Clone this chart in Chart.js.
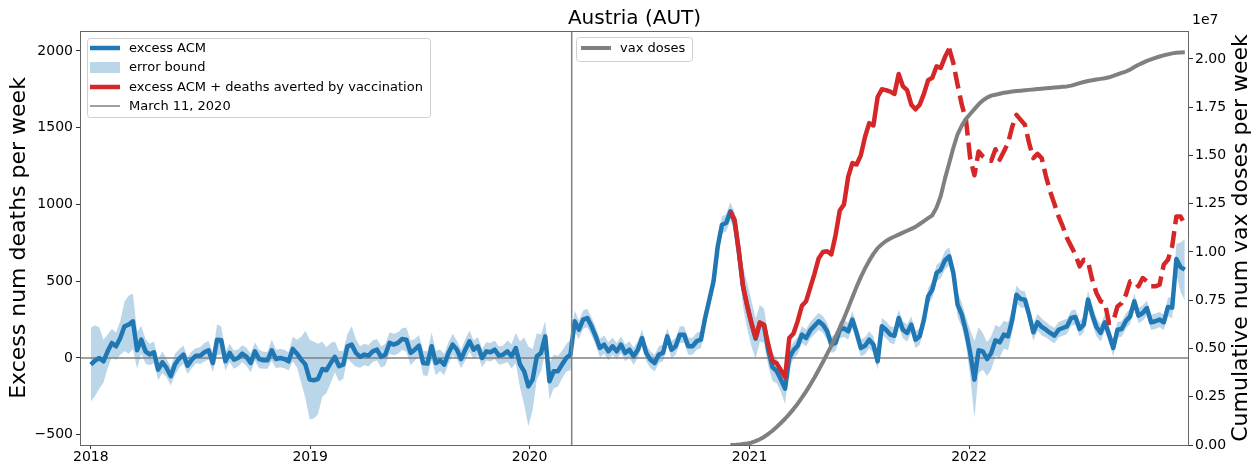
<!DOCTYPE html>
<html>
<head>
<meta charset="utf-8">
<script src="https://cdn.jsdelivr.net/npm/chart.js@4.4.1/dist/chart.umd.min.js"></script>
<style>
  html, body { margin: 0; padding: 0; background: #fff; }
</style>
</head>
<body>
<canvas id="myChart" width="1258" height="469"></canvas>
<script>
// weekly values, week 0 = 2018-01-01
var yearDays = [0, 365, 730, 1096, 1461];
var yearLabels = ['2018', '2019', '2020', '2021', '2022'];
var leftTicks = [-500, 0, 500, 1000, 1500, 2000];
var rightTicks = [0, 0.25, 0.5, 0.75, 1.0, 1.25, 1.5, 1.75, 2.0];
var march11 = 800; // days after 2018-01-01

var excessAcm = [
  -43, -17, 0, -22, 43, 98, 76, 130, 206, 217, 239, 50, 119, 43, 22, 37, -76, -28, -65, -119,
  -43, -4, 22, -50, -11, 15, 15, 37, 50, -33, 119, 115, -22, 33, -11, 0, 28, 7, -33, 43,
  -7, -15, -15, 50, -7, 0, -7, -22, 59, 28, -11, -43, -140,
  -145, -137, -72, -80, -33, 7, -54, -43, 76, 87, 33, 7, 22, 15, 43, 54, 7, 22, 98, 87,
  98, 124, 119, 33, 54, 80, -33, -37, 76, -33, -15, -43, 33, 87, 54, -7, 54, 109, 54, 76,
  0, 43, 37, 54, 15, 22, 43, 11, 65, -43, -87, -185,
  -141, 11, 33, 141, -152, -87, -87, -43, 0, 22, 239, 184, 250, 260, 206, 141, 65, 87, 43, 76,
  43, 87, 33, 54, 11, 54, 130, 33, -11, -33, 22, 33, 141, 54, 76, 152, 152, 76, 76, 109,
  119, 260, 380, 499, 727, 868, 879, 955,
  890, 690, 465, 340, 225, 125, 225, 210, 50, -60, -85, -140, -200,
  0, 50, 80, 152, 130, 180, 210, 239, 217, 174, 87, 98, 184, 193, 174, 250, 163, 65, 80, 119,
  87, -22, 206, 184, 152, 145, 260, 184, 163, 217, 119, 141, 250, 401, 445, 553, 575, 636, 662, 553,
  347, 282, 174, 33, -141,
  50, 43, -7, 33, 115, 102, 152, 141, 250, 412, 384, 380, 282, 167, 232, 202, 184, 163, 145, 184,
  195, 206, 260, 267, 189, 217, 380, 282, 202, 163, 232, 152, 65, 184, 189, 241, 271, 369, 276, 293,
  325, 232, 239, 250, 232, 332, 328, 644, 592, 575
];

var errorHalf = [
  240, 230, 200, 140, 110, 90, 90, 110, 160, 190, 180, 120, 90, 80, 70, 70, 70, 70, 60, 60,
  70, 60, 60, 55, 55, 50, 55, 60, 60, 60, 100, 90, 60, 60, 60, 55, 55, 60, 60, 60,
  60, 55, 55, 70, 60, 60, 60, 60, 80, 90, 150, 220, 260, 250, 230, 180, 150, 130, 100, 100,
  90, 80, 120, 90, 70, 70, 70, 70, 70, 70, 70, 70, 70, 70, 70, 80, 80, 70, 70, 80,
  80, 90, 80, 70, 70, 70, 70, 60, 60, 70, 70, 60, 60, 60, 60, 60, 60, 60, 60, 70,
  80, 100, 150, 220, 260, 200, 150, 120, 100, 120, 110, 100, 90, 90, 100, 70, 60, 60, 60, 60,
  60, 60, 60, 60, 55, 55, 55, 55, 55, 55, 55, 55, 55, 55, 55, 55, 55, 55, 55, 55,
  55, 55, 55, 55, 55, 55, 55, 55, 55, 55, 55, 55, 60, 60, 90, 130, 150, 150, 130, 120,
  110, 100, 90, 80, 80, 100, 60, 55, 55, 55, 55, 55, 55, 55, 55, 55, 55, 55, 55, 55,
  55, 55, 55, 55, 55, 55, 55, 55, 55, 55, 55, 55, 55, 55, 55, 55, 55, 55, 55, 55,
  55, 55, 55, 60, 60, 60, 80, 80, 90, 150, 250, 150, 120, 110, 110, 100, 100, 90, 90, 80,
  60, 55, 55, 55, 55, 55, 55, 50, 50, 50, 50, 50, 50, 50, 50, 50, 50, 60, 60, 60,
  55, 55, 55, 55, 50, 50, 50, 50, 50, 50, 50, 50, 50, 50, 50, 50, 60, 70, 100, 160,
  200
];

// excess ACM + deaths averted by vaccination, from week 152; dashed from week 204
var avertedStart = 152;
var avertedDashFrom = 204;
var withAverted = [
  955, 900, 700, 470, 340, 230, 130, 232, 217, 87, -20, -35, -80, -125, 130, 160, 240, 340, 370, 460,
  550, 650, 690, 695, 675, 800, 960, 1000, 1180, 1270, 1260, 1320, 1440, 1530, 1515, 1700, 1750, 1745, 1735, 1720,
  1850, 1770, 1745, 1650, 1620, 1650, 1720, 1810, 1825, 1900, 1890, 1960, 2015,
  1920, 1780, 1650, 1550, 1300, 1190, 1345, 1313, 1291, 1285, 1360, 1291, 1345, 1400, 1508, 1584, 1551, 1519, 1400, 1302,
  1330, 1302, 1183, 1085, 1005, 922, 857, 781, 727, 673, 597, 640, 629, 510, 423, 369, 358, 228, 239, 336,
  358, 412, 499, 499, 467, 521, 499, 467, 467, 477, 608, 640, 727, 922, 922, 868
];

// cumulative vax doses (units of 1e7), from week 152
var vaxStart = 152;
var vaxDoses = [
  0, 0, 0.002, 0.005, 0.008, 0.012, 0.02, 0.03, 0.042, 0.057, 0.074, 0.093, 0.114, 0.136, 0.16, 0.186, 0.214, 0.245, 0.278, 0.313,
  0.35, 0.39, 0.43, 0.472, 0.515, 0.56, 0.607, 0.657, 0.71, 0.765, 0.82, 0.87, 0.915, 0.955, 0.99, 1.02, 1.04, 1.057, 1.07, 1.08,
  1.09, 1.1, 1.11, 1.12, 1.13, 1.145, 1.16, 1.175, 1.19, 1.23, 1.29, 1.38, 1.46, 1.54, 1.61, 1.655, 1.69, 1.715, 1.74, 1.765,
  1.785, 1.8, 1.81, 1.815, 1.82, 1.825, 1.828, 1.831, 1.834, 1.836, 1.838, 1.84, 1.842, 1.844, 1.846, 1.848, 1.85, 1.852, 1.854, 1.856,
  1.858, 1.862, 1.868, 1.875, 1.881, 1.886, 1.89, 1.894, 1.897, 1.9, 1.905, 1.912, 1.92, 1.928, 1.935, 1.945, 1.958, 1.97, 1.98, 1.99,
  1.998, 2.006, 2.013, 2.019, 2.024, 2.029, 2.032, 2.034, 2.035
];

var xMin = -18, xMax = 1827;
var yMin = -567, yMax = 2130;
var y2Max = 2.145;

function pts(arr, start) {
  return arr.map(function (v, i) { return { x: (start + i) * 7, y: v }; });
}

var upper = excessAcm.map(function (v, i) { return { x: i * 7, y: v + errorHalf[i] }; });
var lower = excessAcm.map(function (v, i) { return { x: i * 7, y: v - errorHalf[i] }; });

var FONT = 'DejaVu Sans';

var decor = {
  id: 'decor',
  afterDraw: function (chart) {
    var ctx = chart.ctx, a = chart.chartArea;
    ctx.save();
    ctx.strokeStyle = '#666';
    ctx.lineWidth = 1;
    ctx.strokeRect(a.left + 0.5, a.top + 0.5, a.right - a.left - 1, a.bottom - a.top);

    ctx.fillStyle = '#000';
    ctx.textBaseline = 'middle';
    ctx.textAlign = 'center';
    ctx.font = '20px "' + FONT + '"';
    ctx.fillText('Austria (AUT)', (a.left + a.right) / 2, 19);

    ctx.font = '22px "' + FONT + '"';
    ctx.save();
    ctx.translate(19, (a.top + a.bottom) / 2);
    ctx.rotate(-Math.PI / 2);
    ctx.fillText('Excess num deaths per week', 0, 0);
    ctx.restore();
    ctx.save();
    ctx.translate(1241, (a.top + a.bottom) / 2);
    ctx.rotate(-Math.PI / 2);
    ctx.fillText('Cumulative num vax doses per week', 0, 0);
    ctx.restore();

    ctx.font = '14px "' + FONT + '"';
    ctx.textAlign = 'left';
    ctx.fillText('1e7', a.right + 3, 20);

    // legends
    var ds = chart.data.datasets;
    function box(x, y, w, h) {
      ctx.beginPath();
      ctx.roundRect(x + 0.5, y + 0.5, w, h, 3);
      ctx.fillStyle = 'rgba(255,255,255,0.8)';
      ctx.fill();
      ctx.strokeStyle = '#d0d0d0';
      ctx.lineWidth = 1;
      ctx.stroke();
    }
    function lineItem(x, y, color, width, text) {
      ctx.beginPath();
      ctx.moveTo(x, y);
      ctx.lineTo(x + 30, y);
      ctx.strokeStyle = color;
      ctx.lineWidth = width;
      ctx.lineCap = 'butt';
      ctx.stroke();
      ctx.fillStyle = '#000';
      ctx.font = '13px "' + FONT + '"';
      ctx.textAlign = 'left';
      ctx.fillText(text, x + 39, y + 1);
    }
    var lx = a.left + 7, ly = a.top + 7;
    box(lx, ly, 343, 79);
    lineItem(lx + 3, ly + 10, '#1f77b4', 4.5, ds[2].label);
    ctx.fillStyle = 'rgba(31,119,180,0.3)';
    ctx.fillRect(lx + 3, ly + 24, 30, 11);
    ctx.fillStyle = '#000';
    ctx.fillText(ds[0].label, lx + 42, ly + 30);
    lineItem(lx + 3, ly + 49, '#d62728', 4.5, ds[3].label);
    lineItem(lx + 3, ly + 68, 'gray', 1.5, ds[4].label);

    box(576, ly - 1, 116, 24);
    lineItem(581, ly + 10, 'gray', 4, ds[6].label);
    ctx.restore();
  }
};

var tickFont = { family: FONT, size: 14 };

var ctx = document.getElementById('myChart').getContext('2d');
var myChart = new Chart(ctx, {
  type: 'line',
  data: {
    datasets: [{
      label: 'error bound',
      data: upper,
      yAxisID: 'y',
      borderWidth: 0,
      pointRadius: 0,
      fill: '+1',
      backgroundColor: 'rgba(31,119,180,0.3)',
      order: 6
    }, {
      label: 'lower',
      data: lower,
      yAxisID: 'y',
      borderWidth: 0,
      pointRadius: 0,
      fill: false,
      order: 7
    }, {
      label: 'excess ACM',
      data: pts(excessAcm, 0),
      yAxisID: 'y',
      borderColor: '#1f77b4',
      borderWidth: 4.5,
      borderJoinStyle: 'round',
      pointRadius: 0,
      order: 4
    }, {
      label: 'excess ACM + deaths averted by vaccination',
      data: pts(withAverted, avertedStart),
      yAxisID: 'y',
      borderColor: '#d62728',
      borderWidth: 4.5,
      borderJoinStyle: 'round',
      pointRadius: 0,
      segment: {
        borderDash: function (c) {
          return (c.p0DataIndex + avertedStart >= avertedDashFrom) ? [17, 7] : undefined;
        }
      },
      order: 3
    }, {
      label: 'March 11, 2020',
      data: [{ x: march11, y: yMin }, { x: march11, y: yMax }],
      yAxisID: 'y',
      borderColor: 'gray',
      borderWidth: 1.5,
      pointRadius: 0,
      order: 2
    }, {
      label: 'zero',
      data: [{ x: xMin, y: 0 }, { x: xMax, y: 0 }],
      yAxisID: 'y',
      borderColor: 'gray',
      borderWidth: 1.5,
      pointRadius: 0,
      order: 5
    }, {
      label: 'vax doses',
      data: pts(vaxDoses, vaxStart),
      yAxisID: 'y2',
      borderColor: 'gray',
      borderWidth: 4,
      borderJoinStyle: 'round',
      pointRadius: 0,
      order: 1
    }]
  },
  options: {
    responsive: false,
    animation: false,
    devicePixelRatio: 1,
    layout: { padding: { top: 31, left: 0, right: 0, bottom: 0 } },
    plugins: { legend: { display: false }, tooltip: { enabled: false } },
    scales: {
      x: {
        type: 'linear',
        min: xMin,
        max: xMax,
        afterBuildTicks: function (s) { s.ticks = yearDays.map(function (v) { return { value: v }; }); },
        afterFit: function (s) { s.height = 24; },
        ticks: {
          font: tickFont, color: '#000', padding: 0, maxRotation: 0,
          callback: function (v) { var k = yearDays.indexOf(v); return k >= 0 ? yearLabels[k] : ''; }
        },
        grid: { drawOnChartArea: false, drawTicks: true, tickLength: 4, color: '#333' },
        border: { display: false }
      },
      y: {
        position: 'left',
        min: yMin,
        max: yMax,
        afterBuildTicks: function (s) { s.ticks = leftTicks.map(function (v) { return { value: v }; }); },
        afterFit: function (s) { s.width = 80; },
        ticks: {
          font: tickFont, color: '#000', padding: 3,
          callback: function (v) { return v < 0 ? '\u2212' + Math.abs(v) : String(v); }
        },
        grid: { drawOnChartArea: false, drawTicks: true, tickLength: 4, color: '#333' },
        border: { display: false }
      },
      y2: {
        position: 'right',
        min: 0,
        max: y2Max,
        afterBuildTicks: function (s) { s.ticks = rightTicks.map(function (v) { return { value: v }; }); },
        afterFit: function (s) { s.width = 69; },
        ticks: {
          font: tickFont, color: '#000', padding: 2,
          callback: function (v) { return v.toFixed(2); }
        },
        grid: { drawOnChartArea: false, drawTicks: true, tickLength: 4, color: '#333' },
        border: { display: false }
      }
    }
  },
  plugins: [decor]
});
</script>
</body>
</html>
